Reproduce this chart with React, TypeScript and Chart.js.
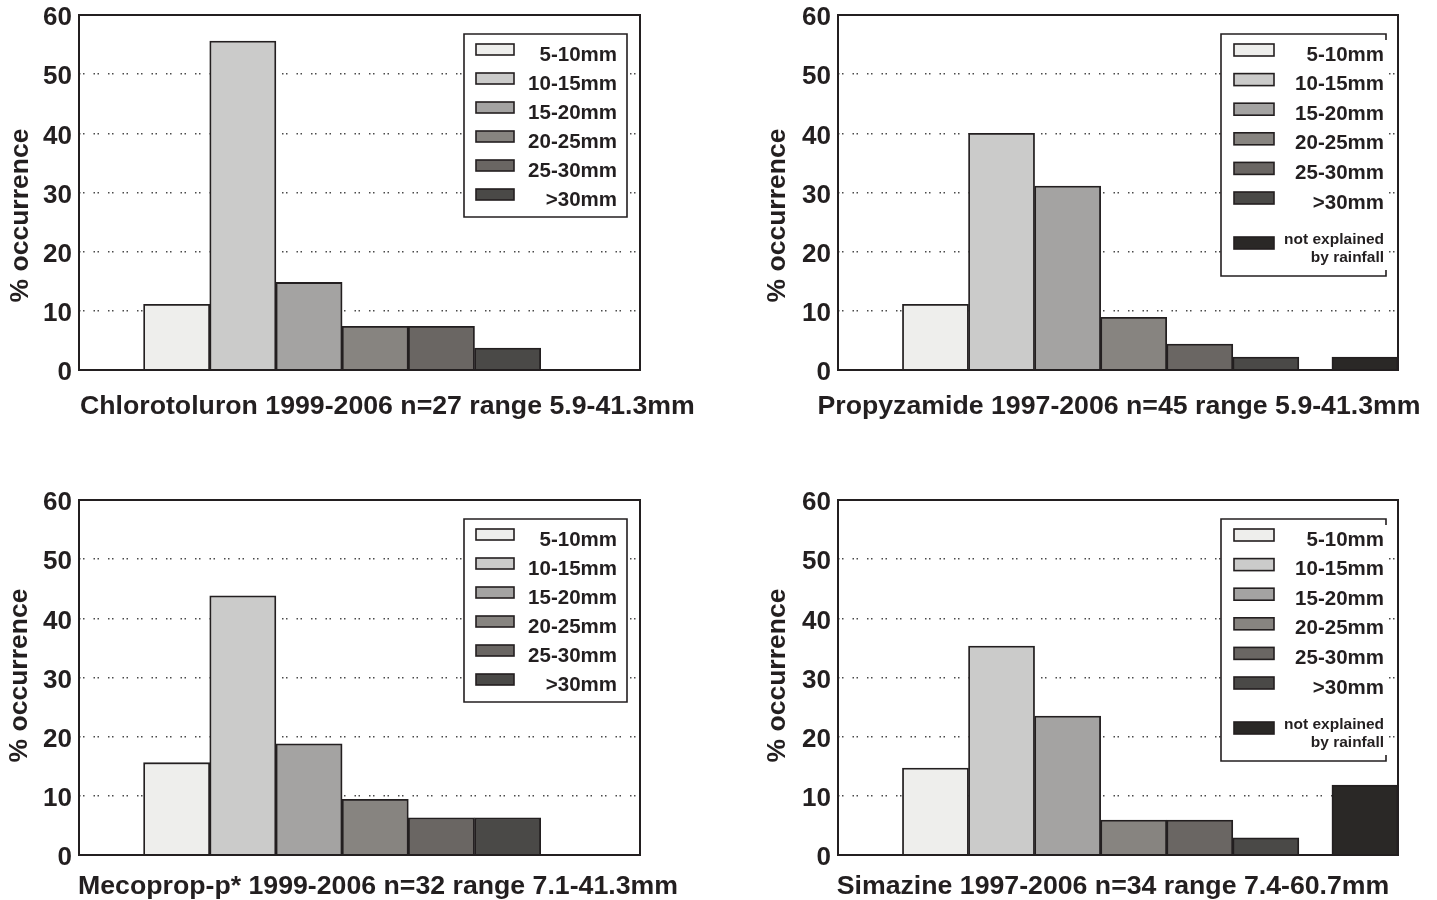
import React, { useEffect, useRef } from 'react';
import { Chart, registerables } from 'chart.js';

Chart.register(...registerables);

// ---------------- data ----------------
const rainfallClasses = ['5-10mm', '10-15mm', '15-20mm', '20-25mm', '25-30mm', '>30mm'];
const notExplainedLines = ['not explained', 'by rainfall'];
// bin centres on the (hidden) linear x axis: six rainfall classes, then a gap, then "not explained"
const classBinCentres = [1.5, 2.5, 3.5, 4.5, 5.5, 6.5];
const notExplainedBinCentre = 8;
const xAxisRange = [0.025, 8.5];
const yTickStep = 10;
const yAxisRange = [0, 60];
const yAxisTitle = '% occurrence';

const chlorotoluronPct = [11.1, 55.6, 14.8, 7.4, 7.4, 3.7];
const propyzamidePct = [11.1, 40.0, 31.1, 8.9, 4.4, 2.2];
const propyzamideNotExplainedPct = 2.2;
const mecopropPct = [15.6, 43.8, 18.8, 9.4, 6.3, 6.3];
const simazinePct = [14.7, 35.3, 23.5, 5.9, 5.9, 2.9];
const simazineNotExplainedPct = 11.8;

const panelTitles = [
  'Chlorotoluron 1999-2006 n=27 range 5.9-41.3mm',
  'Propyzamide 1997-2006 n=45 range 5.9-41.3mm',
  'Mecoprop-p* 1999-2006 n=32 range 7.1-41.3mm',
  'Simazine 1997-2006 n=34 range 7.4-60.7mm',
];

// ---------------- styles ----------------
const classColours = ['#eeeeec', '#cbcbca', '#a4a3a2', '#878480', '#6a6663', '#4a4947'];
const notExplainedColour = '#2a2826';
const inkColour = '#231f20';
const FONT = "'Liberation Sans', Arial, Helvetica, sans-serif";

const leftLegendStyle = {
  rightGap: 13, topGap: 19, width: 163, height: 183, rowStep: 29, swatchDx: 12,
  swatchW: 38, swatchH: 11, textPad: 10, fontSize: 20.5, fullBorder: true,
};
const rightLegendStyle = {
  rightGap: 12, topGap: 19, width: 165, height: 242, rowStep: 29.6, swatchDx: 13,
  swatchW: 40, swatchH: 12, textPad: 2, fontSize: 20.5, fullBorder: false,
  extraSwatchTop: 203, extraBaselines: [210, 228], extraFontSize: 15.5,
};

type PanelLayout = {
  left: number; top: number; width: number; height: number;
  padding: { left: number; right: number; top: number; bottom: number };
  yAxisWidth: number; yTitleX: number; yTitleDy: number;
  titleAlign: 'left' | 'center'; titleDx: number; titleGap: number;
  legend: any;
};

const layouts: PanelLayout[] = [
  { left: 0, top: 0, width: 718, height: 440, padding: { left: 0, right: 78, top: 15, bottom: 70 }, yAxisWidth: 79, yTitleX: 21, yTitleDy: 23, titleAlign: 'left', titleDx: 1, titleGap: 44, legend: leftLegendStyle },
  { left: 718, top: 0, width: 719, height: 440, padding: { left: 41, right: 39, top: 15, bottom: 70 }, yAxisWidth: 79, yTitleX: 60, yTitleDy: 23, titleAlign: 'center', titleDx: 1, titleGap: 44, legend: rightLegendStyle },
  { left: 0, top: 485, width: 718, height: 415, padding: { left: 0, right: 78, top: 15, bottom: 45 }, yAxisWidth: 79, yTitleX: 20, yTitleDy: -2, titleAlign: 'left', titleDx: -1, titleGap: 39, legend: leftLegendStyle },
  { left: 718, top: 485, width: 719, height: 415, padding: { left: 41, right: 39, top: 15, bottom: 45 }, yAxisWidth: 79, yTitleX: 60, yTitleDy: -2, titleAlign: 'center', titleDx: -5, titleGap: 39, legend: rightLegendStyle },
];

function buildDatasets(values: number[], notExplained: number | null) {
  const ds: any[] = rainfallClasses.map((label, i) => ({
    label,
    data: [{ x: classBinCentres[i], y: values[i] }],
    backgroundColor: classColours[i],
    borderColor: inkColour,
    borderWidth: 1.8,
  }));
  if (notExplained !== null) {
    ds.push({
      label: notExplainedLines.join(' '),
      data: [{ x: notExplainedBinCentre, y: notExplained }],
      backgroundColor: notExplainedColour,
      borderColor: inkColour,
      borderWidth: 1.8,
    });
  }
  return ds;
}

function makeDecorPlugin(title: string, lay: PanelLayout) {
  return {
    id: 'decor',
    afterDatasetsDraw(chart: any) {
      const { ctx, chartArea: a } = chart;
      ctx.save();
      // plot frame
      ctx.strokeStyle = inkColour;
      ctx.lineWidth = 2;
      ctx.setLineDash([]);
      ctx.strokeRect(a.left, a.top, a.right - a.left, a.bottom - a.top);

      // legend
      const lg = lay.legend;
      const bx = a.right - lg.rightGap - lg.width;
      const by = a.top + lg.topGap;
      ctx.fillStyle = '#ffffff';
      ctx.fillRect(bx, by, lg.width, lg.height);
      ctx.lineWidth = 1.6;
      ctx.strokeStyle = inkColour;
      ctx.beginPath();
      if (lg.fullBorder) {
        ctx.rect(bx, by, lg.width, lg.height);
      } else {
        ctx.moveTo(bx + lg.width, by + 6);
        ctx.lineTo(bx + lg.width, by);
        ctx.lineTo(bx, by);
        ctx.lineTo(bx, by + lg.height);
        ctx.lineTo(bx + lg.width, by + lg.height);
        ctx.lineTo(bx + lg.width, by + lg.height - 6);
      }
      ctx.stroke();

      const datasets = chart.data.datasets;
      ctx.textAlign = 'right';
      ctx.textBaseline = 'alphabetic';
      datasets.forEach((d: any, i: number) => {
        const isExtra = i >= rainfallClasses.length;
        const sTop = isExtra ? by + lg.extraSwatchTop : by + 10 + lg.rowStep * i;
        const sx = bx + lg.swatchDx;
        ctx.fillStyle = d.backgroundColor;
        ctx.fillRect(sx, sTop, lg.swatchW, lg.swatchH);
        ctx.lineWidth = 1.6;
        ctx.strokeStyle = inkColour;
        ctx.strokeRect(sx, sTop, lg.swatchW, lg.swatchH);
        ctx.fillStyle = inkColour;
        const tx = bx + lg.width - lg.textPad;
        if (isExtra) {
          ctx.font = `bold ${lg.extraFontSize}px ${FONT}`;
          notExplainedLines.forEach((line, k) => {
            ctx.fillText(line, tx, by + lg.extraBaselines[k]);
          });
        } else {
          ctx.font = `bold ${lg.fontSize}px ${FONT}`;
          ctx.fillText(d.label, tx, sTop + 16.5);
        }
      });

      // y axis title
      ctx.save();
      ctx.translate(lay.yTitleX, (a.top + a.bottom) / 2 + lay.yTitleDy);
      ctx.rotate(-Math.PI / 2);
      ctx.font = `bold 26.5px ${FONT}`;
      ctx.fillStyle = inkColour;
      ctx.textAlign = 'center';
      ctx.textBaseline = 'middle';
      ctx.fillText(yAxisTitle, 0, 0);
      ctx.restore();

      // bottom title
      ctx.font = `bold 26.7px ${FONT}`;
      ctx.fillStyle = inkColour;
      ctx.textBaseline = 'alphabetic';
      if (lay.titleAlign === 'left') {
        ctx.textAlign = 'left';
        ctx.fillText(title, a.left + lay.titleDx, a.bottom + lay.titleGap);
      } else {
        ctx.textAlign = 'center';
        ctx.fillText(title, (a.left + a.right) / 2 + lay.titleDx, a.bottom + lay.titleGap);
      }
      ctx.restore();
    },
  };
}

function Panel({ values, notExplained, title, lay }: { values: number[]; notExplained: number | null; title: string; lay: PanelLayout }) {
  const ref = useRef<HTMLCanvasElement | null>(null);
  useEffect(() => {
    if (!ref.current) return;
    const chart = new Chart(ref.current, {
      type: 'bar',
      data: { datasets: buildDatasets(values, notExplained) },
      options: {
        responsive: false,
        animation: false,
        devicePixelRatio: 1,
        layout: { padding: lay.padding },
        datasets: {
          bar: { grouped: false, barPercentage: 1, categoryPercentage: 1, borderSkipped: 'start' },
        } as any,
        plugins: { legend: { display: false }, title: { display: false }, tooltip: { enabled: false } },
        scales: {
          x: {
            type: 'linear',
            display: false,
            offset: false,
            min: xAxisRange[0],
            max: xAxisRange[1],
            ticks: { stepSize: 1, includeBounds: false },
            grid: { display: false },
          },
          y: {
            type: 'linear',
            min: yAxisRange[0],
            max: yAxisRange[1],
            afterFit: (s: any) => {
              s.width = lay.yAxisWidth;
              s.paddingTop = 0;
              s.paddingBottom = 0;
            },
            ticks: {
              stepSize: yTickStep,
              padding: 7,
              labelOffset: 3,
              color: inkColour,
              font: { family: FONT, size: 26, weight: 'bold' },
            },
            border: { display: false, dash: [1.5, 2.5, 1.5, 9] },
            grid: {
              drawTicks: false,
              lineWidth: 1.4,
              color: (c: any) => (c.tick && (c.tick.value === yAxisRange[0] || c.tick.value === yAxisRange[1]) ? 'rgba(0,0,0,0)' : '#4a4a4a'),
            },
            title: { display: false },
          },
        },
      } as any,
      plugins: [makeDecorPlugin(title, lay)],
    });
    return () => chart.destroy();
  }, []);
  return (
    <canvas
      ref={ref}
      width={lay.width}
      height={lay.height}
      style={{ position: 'absolute', left: lay.left, top: lay.top, width: lay.width, height: lay.height }}
    />
  );
}

export default function App() {
  return (
    <div style={{ position: 'absolute', left: 0, top: 0, width: 1437, height: 900, background: '#ffffff' }}>
      <Panel values={chlorotoluronPct} notExplained={null} title={panelTitles[0]} lay={layouts[0]} />
      <Panel values={propyzamidePct} notExplained={propyzamideNotExplainedPct} title={panelTitles[1]} lay={layouts[1]} />
      <Panel values={mecopropPct} notExplained={null} title={panelTitles[2]} lay={layouts[2]} />
      <Panel values={simazinePct} notExplained={simazineNotExplainedPct} title={panelTitles[3]} lay={layouts[3]} />
    </div>
  );
}
